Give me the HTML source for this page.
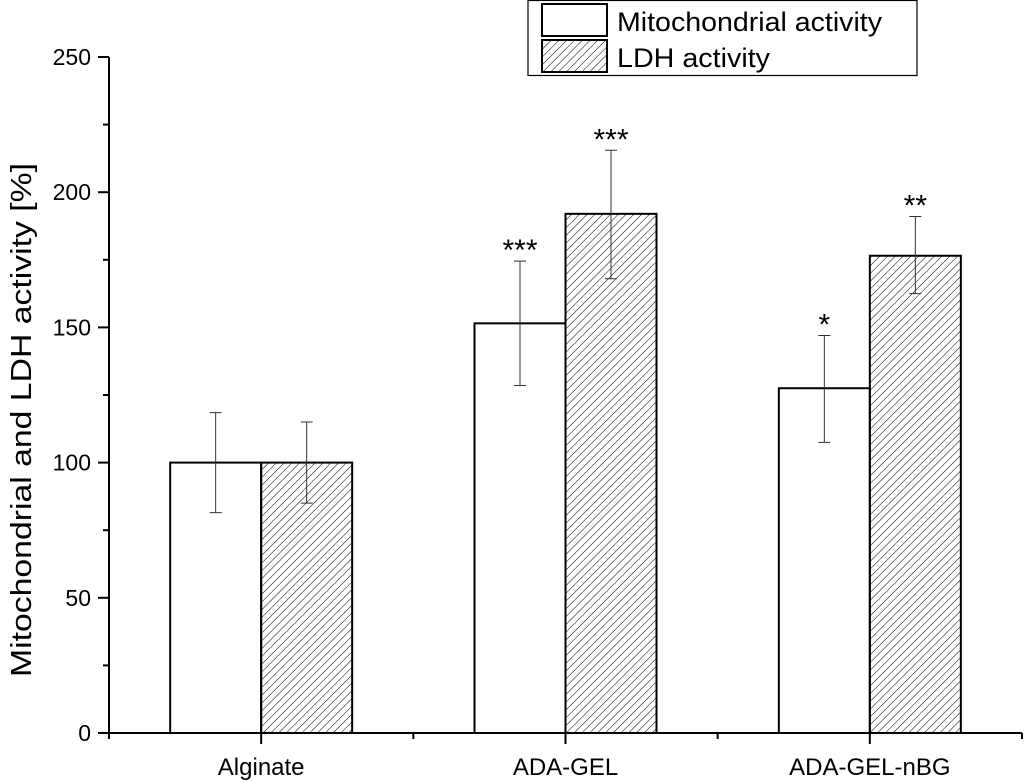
<!DOCTYPE html>
<html><head><meta charset="utf-8"><style>
html,body{margin:0;padding:0;background:#fff;}
svg{display:block;font-family:"Liberation Sans",Arial,sans-serif;}
</style></head><body>
<svg id="chart" width="1024" height="781" viewBox="0 0 1024 781">
<defs>
<pattern id="hatch" patternUnits="userSpaceOnUse" width="5.5" height="5.5" patternTransform="rotate(45)">
<line x1="0" y1="0" x2="0" y2="5.5" stroke="#000" stroke-width="1"/>
</pattern>
</defs>
<g id="plot"></g>
<g>
<rect x="528" y="0.5" width="389" height="75" fill="#fff" stroke="#000" stroke-width="1.2"/>
<rect x="542" y="4" width="65" height="32" fill="#fff" stroke="#000" stroke-width="2"/>
<text x="617" y="31" font-size="27" textLength="265" lengthAdjust="spacingAndGlyphs">Mitochondrial activity</text>
<rect x="542" y="40" width="65" height="32" fill="url(#hatch)" stroke="#000" stroke-width="2"/>
<text x="617" y="67" font-size="27" textLength="153" lengthAdjust="spacingAndGlyphs">LDH activity</text>
</g>
<text transform="translate(31,420) rotate(-90)" text-anchor="middle" font-size="29" textLength="514" lengthAdjust="spacingAndGlyphs">Mitochondrial and LDH activity [%]</text>
</svg>
<script>
const categories = ["Alginate", "ADA-GEL", "ADA-GEL-nBG"];
const mitoValues = [100, 151.5, 127.5];
const mitoErrLow = [81.5, 128.5, 107.5];
const mitoErrHigh = [118.5, 174.5, 147];
const mitoStars = ["", "***", "*"];
const ldhValues = [100, 192, 176.5];
const ldhErrLow = [85, 168, 162.5];
const ldhErrHigh = [115, 215.5, 191];
const ldhStars = ["", "***", "**"];
const yTicks = [0, 50, 100, 150, 200, 250];

const NS = "http://www.w3.org/2000/svg";
const g = document.getElementById("plot");
const X0 = 109, X1 = 1022, Y0 = 733, Y1 = 57;
const yMax = 250;
const y = v => Y0 - (v / yMax) * (Y0 - Y1);
const catW = (X1 - X0) / categories.length;
const xc = i => X0 + catW * (i + 0.5);
const barW = 91;
function mk(tag, attrs) { const e = document.createElementNS(NS, tag); for (const k in attrs) e.setAttribute(k, attrs[k]); g.appendChild(e); return e; }

categories.forEach((c, i) => {
  const cx = xc(i);
  const r1 = mk("rect", {x: cx - barW, y: y(mitoValues[i]), width: barW, height: Y0 - y(mitoValues[i]), fill: "#fff", stroke: "#000", "stroke-width": 2});
  
  
  const r2 = mk("rect", {x: cx, y: y(ldhValues[i]), width: barW, height: Y0 - y(ldhValues[i]), fill: "url(#hatch)", stroke: "#000", "stroke-width": 2});
  
  
  [[cx - barW / 2, mitoErrLow[i], mitoErrHigh[i], mitoStars[i], 'mitochondrial'], [cx + barW / 2, ldhErrLow[i], ldhErrHigh[i], ldhStars[i], 'ldh']].forEach(([ex, lo, hi, st, nm]) => {
    const eb = mk("path", {d: `M${ex},${y(lo)}V${y(hi)}M${ex - 6},${y(lo)}H${ex + 6}M${ex - 6},${y(hi)}H${ex + 6}`, stroke: "#333", "stroke-width": 1, fill: "none"});
    
    
    if (st) {
      const t = mk("text", {x: ex, y: y(hi) - 1, "text-anchor": "middle", "font-size": 30});
      t.textContent = st;
      
      
    }
  });
});

const ya = mk("line", {x1: X0, y1: Y0, x2: X0, y2: Y1, stroke: "#000", "stroke-width": 2});


const xa = mk("line", {x1: X0, y1: Y0, x2: X1, y2: Y0, stroke: "#000", "stroke-width": 2});


yTicks.forEach((v, k) => {
  mk("line", {x1: X0 - 11, y1: y(v), x2: X0, y2: y(v), stroke: "#000", "stroke-width": 2});
  if (k < yTicks.length - 1) mk("line", {x1: X0 - 6, y1: y(v + 25), x2: X0, y2: y(v + 25), stroke: "#000", "stroke-width": 2});
  const t = mk("text", {x: X0 - 18, y: y(v) + 8, "text-anchor": "end", "font-size": 23});
  t.textContent = v;
  
  
});
for (let i = 0; i <= categories.length; i++) {
  const tx = X0 + catW * i;
  mk("line", {x1: tx, y1: Y0, x2: tx, y2: Y0 + 6, stroke: "#000", "stroke-width": 2});
}
categories.forEach((c, i) => {
  mk("line", {x1: xc(i), y1: Y0, x2: xc(i), y2: Y0 + 11, stroke: "#000", "stroke-width": 2});
  const t = mk("text", {x: xc(i), y: Y0 + 42, "text-anchor": "middle", "font-size": 24});
  t.textContent = c;
  
  
});
</script>
</body></html>
